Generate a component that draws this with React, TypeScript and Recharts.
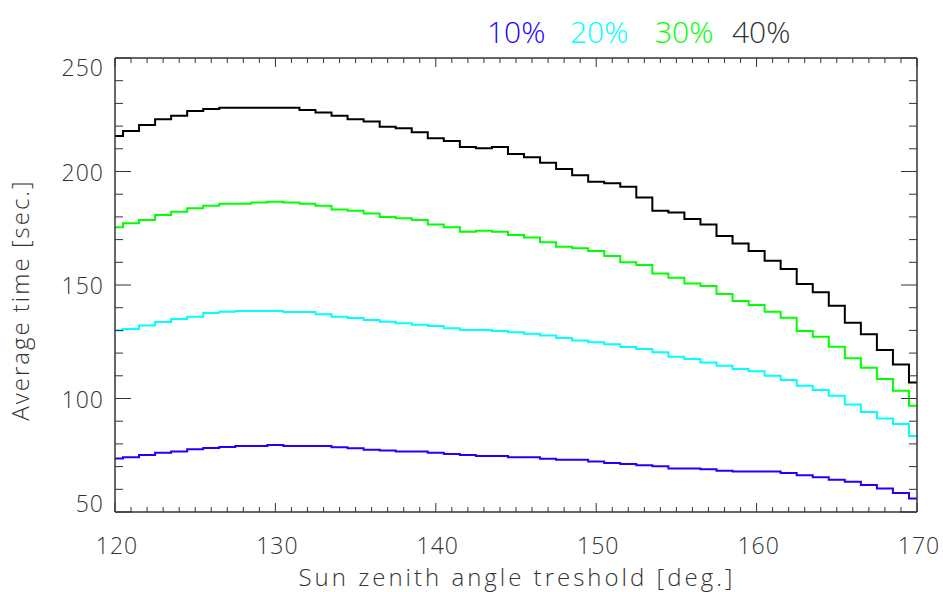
import React from "react"
import { LineChart, Line, XAxis, YAxis } from "recharts"

const angles = [
  120, 121, 122, 123, 124, 125, 126, 127, 128, 129, 130, 131, 132, 133, 134, 135, 136,
  137, 138, 139, 140, 141, 142, 143, 144, 145, 146, 147, 148, 149, 150, 151, 152, 153,
  154, 155, 156, 157, 158, 159, 160, 161, 162, 163, 164, 165, 166, 167, 168, 169, 170,
]

const p10 = [
  73.6, 74.1, 75.1, 76.1, 76.7, 77.6, 78.2, 78.6, 79.1, 79.1, 79.5, 79.1, 79.1, 79.1, 78.5, 78.1, 77.4,
  77.1, 76.6, 76.6, 76.1, 75.6, 75.1, 74.7, 74.7, 74.1, 74.1, 73.5, 73.0, 73.0, 72.2, 71.6, 71.1, 70.6,
  70.1, 69.2, 69.2, 68.8, 68.2, 67.8, 67.8, 67.8, 67.2, 66.2, 65.3, 64.2, 63.3, 61.9, 60.4, 58.4, 56.0,
]

const p20 = [
  130.0, 130.6, 132.2, 133.7, 135.0, 136.0, 137.7, 138.2, 138.5, 138.5, 138.5, 138.1, 138.1, 137.1, 136.0, 135.5, 134.6,
  133.8, 133.1, 132.5, 131.9, 131.0, 130.2, 130.2, 129.7, 129.2, 128.5, 127.7, 126.7, 125.5, 124.8, 123.9, 122.7, 121.8,
  120.4, 118.4, 117.4, 115.9, 114.4, 113.0, 112.0, 110.0, 108.1, 105.6, 103.7, 101.2, 97.4, 94.1, 91.2, 88.8, 83.5,
]

const p30 = [
  175.4, 177.2, 178.6, 180.8, 182.3, 183.8, 184.9, 185.8, 185.8, 186.3, 186.7, 186.3, 185.8, 184.9, 183.3, 182.7, 181.5,
  180.0, 179.4, 178.6, 176.7, 175.4, 173.5, 173.9, 173.5, 172.0, 170.9, 168.8, 166.9, 166.2, 165.0, 162.8, 160.0, 158.8,
  155.1, 153.2, 150.7, 149.6, 146.0, 143.0, 141.2, 138.2, 135.6, 129.7, 127.2, 122.8, 117.7, 113.6, 108.6, 103.4, 96.8,
]

const p40 = [
  215.6, 217.8, 220.5, 223.0, 224.6, 226.7, 227.5, 228.1, 228.1, 228.1, 228.1, 228.1, 227.1, 226.0, 224.6, 223.0, 222.0,
  219.7, 219.1, 217.3, 214.6, 213.4, 210.8, 210.2, 210.8, 207.7, 206.3, 203.9, 201.1, 198.3, 195.5, 194.8, 193.3, 188.5,
  182.7, 181.9, 179.1, 176.7, 171.6, 168.3, 165.0, 160.7, 157.0, 150.4, 146.8, 140.9, 133.4, 128.3, 121.4, 115.0, 107.0,
]

const yTicks = [50, 60, 70, 80, 90, 100, 110, 120, 130, 140, 150, 160, 170, 180, 190, 200, 210, 220, 230, 240, 250]

// the top/right box axes need series bound to them, so the last two ride on those
const series = [
  { key: "p10", label: "10%", color: "#2200ff", left: 487, x: "bottom", y: "left" },
  { key: "p20", label: "20%", color: "#00ffff", left: 570, x: "bottom", y: "left" },
  { key: "p30", label: "30%", color: "#00ff00", left: 655, x: "top", y: "right" },
  { key: "p40", label: "40%", color: "#000000", left: 732, x: "top", y: "right" },
]

const data = angles.map((a, i) => ({ angle: a, p10: p10[i], p20: p20[i], p30: p30[i], p40: p40[i] }))

const font = "'Open Sans', 'DejaVu Sans', sans-serif"
const ink = "#333"

function BottomTick({ x, y, payload }: any) {
  const major = payload.value % 10 === 0
  return (
    <g>
      <line x1={x} y1={y} x2={x} y2={y - (major ? 9 : 5)} stroke={ink} />
      {major && (
        <text x={x + 2} y={y + 33} textAnchor="middle" dominantBaseline="central"
          fontFamily={font} fontWeight={300} fontSize={23} letterSpacing={1} fill={ink}>
          {payload.value}
        </text>
      )}
    </g>
  )
}

function TopTick({ x, y, payload }: any) {
  const major = payload.value % 10 === 0
  return <line x1={x} y1={y} x2={x} y2={y + (major ? 9 : 5)} stroke={ink} />
}

function LeftTick({ x, y, payload }: any) {
  const major = payload.value % 50 === 0
  const shift = payload.value === 250 ? 9 : payload.value === 50 ? -9 : 0
  return (
    <g>
      <line x1={x} y1={y} x2={x + (major ? 16 : 8)} y2={y} stroke={ink} />
      {major && (
        <text x={x - 11} y={y + shift} textAnchor="end" dominantBaseline="central"
          fontFamily={font} fontWeight={300} fontSize={23} letterSpacing={1} fill={ink}>
          {payload.value}
        </text>
      )}
    </g>
  )
}

function RightTick({ x, y, payload }: any) {
  const major = payload.value % 50 === 0
  return <line x1={x} y1={y} x2={x - (major ? 16 : 8)} y2={y} stroke={ink} />
}

export default function App() {
  return (
    <div style={{ position: "absolute", left: 0, top: 0, width: 943, height: 592, background: "#fff", fontFamily: font }}>
      <LineChart width={943} height={592} data={data} margin={{ top: 57, right: 25, bottom: 0, left: 0 }}>
        <XAxis xAxisId="bottom" dataKey="angle" type="number" domain={[120, 170]} ticks={angles} interval={0}
          height={80} tickSize={0} tickMargin={0} tickLine={false}
          axisLine={{ stroke: ink, strokeWidth: 1.5 }} tick={<BottomTick />} />
        <XAxis xAxisId="top" orientation="top" dataKey="angle" type="number" domain={[120, 170]}
          ticks={angles} interval={0} height={1} tickSize={0} tickMargin={0} tickLine={false}
          axisLine={{ stroke: ink, strokeWidth: 1.5 }} tick={<TopTick />} />
        <YAxis yAxisId="left" type="number" domain={[50, 250]} ticks={yTicks} interval={0} width={115}
          tickSize={0} tickMargin={0} tickLine={false}
          axisLine={{ stroke: ink, strokeWidth: 1.5 }} tick={<LeftTick />} />
        <YAxis yAxisId="right" orientation="right" type="number" domain={[50, 250]} ticks={yTicks}
          interval={0} width={1} tickSize={0} tickMargin={0} tickLine={false}
          axisLine={{ stroke: ink, strokeWidth: 1.5 }} tick={<RightTick />} />
        {series.map((s) => (
          <Line key={s.key} dataKey={s.key} xAxisId={s.x} yAxisId={s.y} type="step" stroke={s.color}
            strokeWidth={2} dot={false} isAnimationActive={false} />
        ))}
      </LineChart>
      {series.map((s) => (
        <div key={s.key} style={{ position: "absolute", left: s.left, top: 14, lineHeight: "36px",
          fontSize: 30, fontWeight: 300, color: s.color === "#000000" ? ink : s.color }}>
          {s.label}
        </div>
      ))}
      <div style={{ position: "absolute", left: 117, top: 562, width: 800, lineHeight: "30px",
        textAlign: "center", fontSize: 24, fontWeight: 300, letterSpacing: 3, color: ink }}>
        Sun zenith angle treshold [deg.]
      </div>
      <div style={{ position: "absolute", left: -180, top: 285, width: 400, lineHeight: "30px",
        textAlign: "center", fontSize: 24, fontWeight: 300, letterSpacing: 2, color: ink, transform: "rotate(-90deg)" }}>
        Average time [sec.]
      </div>
    </div>
  )
}
